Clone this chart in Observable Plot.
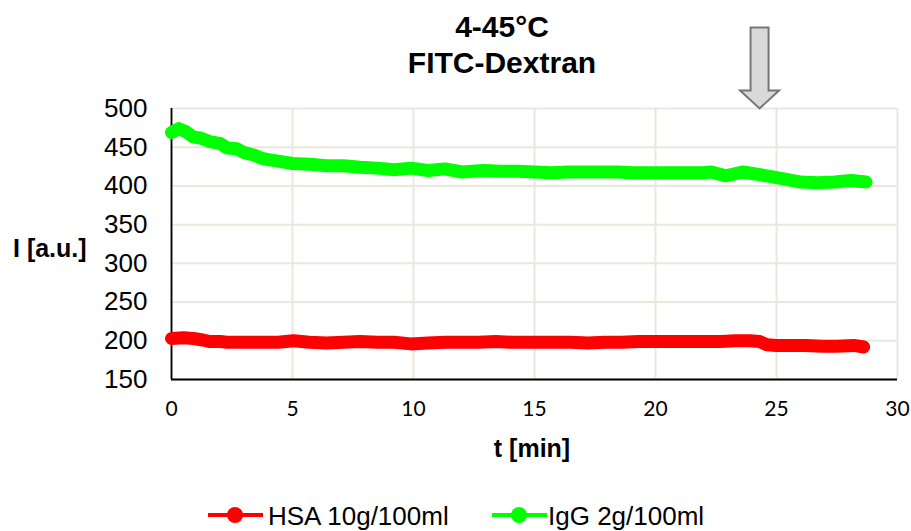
<!DOCTYPE html>
<html>
<head>
<meta charset="utf-8">
<script src="https://cdn.jsdelivr.net/npm/d3@7"></script>
<script src="https://cdn.jsdelivr.net/npm/@observablehq/plot@0.6"></script>
<style>
  html, body { margin: 0; padding: 0; background: #fff; }
  #wrap { position: relative; width: 911px; height: 531px; overflow: hidden; font-family: "Liberation Sans", Arial, sans-serif; }
  #wrap svg { position: absolute; left: 0; top: 0; }
  .title { position: absolute; left: 302px; width: 400px; top: 9px; text-align: center; font-weight: bold; font-size: 30px; line-height: 36px; color: #000; }
  .ylabel { position: absolute; left: 13px; top: 236px; font-weight: bold; font-size: 25px; line-height: 25px; white-space: nowrap; }
  .xlabel { position: absolute; left: 432px; width: 200px; text-align: center; top: 436px; font-weight: bold; font-size: 25px; line-height: 25px; }
  .leg { position: absolute; font-size: 26px; line-height: 26px; white-space: nowrap; color: #000; }
  .sw { position: absolute; }
</style>
</head>
<body>
<div id="wrap"></div>
<script>
// ---- data ----
const seriesNames = ["HSA 10g/100ml", "IgG 2g/100ml"];
const seriesColors = ["#ff0000", "#00ff00"];

const tGreen = [0, 0.3, 0.6, 0.9, 1.2, 1.6, 2.0, 2.3, 2.7, 3.0, 3.4, 3.7, 4.0, 4.4, 5.0, 5.7, 6.4, 7.1, 7.8, 8.5, 9.2, 9.9, 10.6, 11.3, 12.0, 12.9, 13.6, 14.3, 15.0, 15.7, 16.4, 17.0, 17.7, 18.4, 19.1, 19.8, 20.5, 21.2, 22.0, 22.3, 22.9, 23.6, 24.0, 24.6, 25.3, 26.0, 26.7, 27.4, 28.1, 28.7];
const vGreen = [469, 474, 470, 463, 462, 457, 455, 449, 448, 443, 440, 436, 434, 432, 429, 428, 426, 426, 424, 423, 421, 423, 420, 422, 418, 420, 419, 419, 418, 417, 418, 418, 418, 418, 417, 417, 417, 417, 417, 418, 413, 418, 416, 413, 409, 405, 404, 405, 407, 405];

const tRed = [0, 0.5, 0.9, 1.3, 1.6, 2.0, 2.3, 3.0, 3.7, 4.4, 5.05, 5.7, 6.4, 7.1, 7.8, 8.5, 9.2, 9.9, 10.6, 11.3, 12.0, 12.7, 13.4, 14.1, 14.8, 15.8, 16.5, 17.2, 17.9, 18.6, 19.3, 19.9, 20.6, 21.3, 22.0, 22.7, 23.3, 23.9, 24.3, 24.6, 25.0, 25.5, 26.2, 26.9, 27.5, 28.2, 28.6];
const vRed = [203, 204, 203, 201, 199, 199, 198, 198, 198, 198, 200, 198, 197, 198, 199, 198, 198, 196, 197, 198, 198, 198, 199, 198, 198, 198, 198, 197, 198, 198, 199, 199, 199, 199, 199, 199, 200, 200, 199, 195, 194, 194, 194, 193, 193, 194, 192];

const xTicks = [0, 5, 10, 15, 20, 25, 30];
const yTicks = [150, 200, 250, 300, 350, 400, 450, 500];
const arrowAt = [{t: 24.3, v: 500}];

const titleLines = ["4-45°C", "FITC-Dextran"];
const xLabel = "t [min]";
const yLabel = "I [a.u.]";

// ---- build ----
const redData = tRed.map((t, i) => ({t, v: vRed[i]}));
const greenData = tGreen.map((t, i) => ({t, v: vGreen[i]}));

const arrowSymbol = {
  draw(ctx) {
    ctx.moveTo(-9, -81);
    ctx.lineTo(9, -81);
    ctx.lineTo(9, -18);
    ctx.lineTo(19.5, -18);
    ctx.lineTo(0, 0);
    ctx.lineTo(-19.5, -18);
    ctx.lineTo(-9, -18);
    ctx.closePath();
  }
};

const chart = Plot.plot({
  width: 911,
  height: 531,
  marginLeft: 171,
  marginRight: 14,
  marginTop: 108,
  marginBottom: 152,
  style: {background: "transparent", overflow: "visible"},
  x: {domain: [0, 30]},
  y: {domain: [150, 500]},
  marks: [
    Plot.gridX(xTicks, {stroke: "#ebe7dc", strokeOpacity: 1, strokeWidth: 2}),
    Plot.gridY(yTicks, {stroke: "#ebe7dc", strokeOpacity: 1, strokeWidth: 2}),
    Plot.axisX(xTicks, {tickSize: 0, tickPadding: 22, label: null, fontSize: 21, fontFamily: "Lato, 'Open Sans', sans-serif", fill: "#000"}),
    Plot.axisY(yTicks, {tickSize: 0, tickPadding: 24, label: null, fontSize: 26, fontFamily: "'Liberation Sans', Arial, sans-serif", fill: "#000"}),
    Plot.ruleX([0], {stroke: "#000", strokeWidth: 1.8}),
    Plot.ruleY([150], {stroke: "#000", strokeWidth: 1.8}),
    Plot.line(redData, {x: "t", y: "v", stroke: seriesColors[0], strokeWidth: 13, strokeLinecap: "round", strokeLinejoin: "round"}),
    Plot.line(greenData, {x: "t", y: "v", stroke: seriesColors[1], strokeWidth: 13, strokeLinecap: "round", strokeLinejoin: "round"}),
    Plot.dot(arrowAt, {x: "t", y: "v", r: 10, symbol: arrowSymbol, fill: "#d9d9d9", stroke: "#767676", strokeWidth: 2})
  ]
});

const wrap = document.getElementById("wrap");
wrap.appendChild(chart);

const title = document.createElement("div");
title.className = "title";
title.innerHTML = titleLines.join("<br>");
wrap.appendChild(title);

const yl = document.createElement("div");
yl.className = "ylabel";
yl.textContent = yLabel;
wrap.appendChild(yl);

const xl = document.createElement("div");
xl.className = "xlabel";
xl.textContent = xLabel;
wrap.appendChild(xl);

// legend
const legPos = [{sw: 208, tx: 268}, {sw: 492, tx: 548}];
seriesNames.forEach((name, i) => {
  const ns = "http://www.w3.org/2000/svg";
  const s = document.createElementNS(ns, "svg");
  s.setAttribute("class", "sw");
  s.setAttribute("width", 56);
  s.setAttribute("height", 20);
  s.style.left = legPos[i].sw + "px";
  s.style.top = "505px";
  const ln = document.createElementNS(ns, "line");
  ln.setAttribute("x1", 0); ln.setAttribute("x2", 55);
  ln.setAttribute("y1", 10); ln.setAttribute("y2", 10);
  ln.setAttribute("stroke", seriesColors[i]); ln.setAttribute("stroke-width", 4);
  s.appendChild(ln);
  const c = document.createElementNS(ns, "circle");
  c.setAttribute("cx", 27); c.setAttribute("cy", 10); c.setAttribute("r", 8);
  c.setAttribute("fill", seriesColors[i]);
  s.appendChild(c);
  wrap.appendChild(s);
  const t = document.createElement("div");
  t.className = "leg";
  t.style.left = legPos[i].tx + "px";
  t.style.top = "503px";
  t.textContent = name;
  wrap.appendChild(t);
});
</script>
</body>
</html>
